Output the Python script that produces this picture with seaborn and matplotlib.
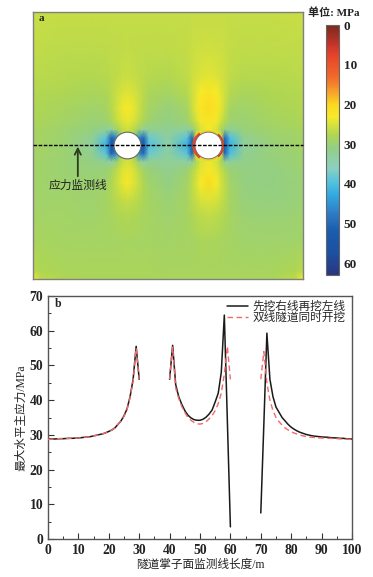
import matplotlib
matplotlib.use("Agg")
import matplotlib.pyplot as plt
import seaborn as sns
import numpy as np
from matplotlib.colors import LinearSegmentedColormap
from matplotlib.patches import Arc, Circle

# panel a: stress at a few uneven grid nodes (MPa)
field_x = [0, 3, 12, 22, 27, 29, 31, 33, 35, 37, 39, 41, 43, 50, 57, 59, 60.5, 62, 65, 68, 69.5, 71, 73, 78, 88, 97, 100]
field_y = [0, 3, 14, 24, 30, 36, 41, 44, 47, 50, 53, 56, 59, 64, 70, 76, 86, 97, 100]
field_v = [
    [23, 27, 28, 28.5, 28.5, 28.5, 28.5, 28.5, 28.5, 28.5, 28.5, 28.5, 28.5, 28.5, 28.5, 28.5, 28.5, 28.5, 28.5, 28.5, 28.5, 28.5, 28.5, 28.5, 28.5, 27, 23],
    [27, 28, 28.5, 28.5, 28.5, 28.5, 28.5, 28.5, 28.5, 28.5, 28.5, 28.5, 28.5, 28.7, 28.7, 28.7, 28.7, 28.7, 28.7, 28.7, 28.7, 28.7, 28.7, 28.7, 28.7, 28, 27],
    [28.5, 28.7, 28.8, 29, 29, 29, 29, 28.8, 28.7, 28.8, 29, 29, 29, 29.2, 29, 28.8, 28.6, 28.5, 28.4, 28.5, 28.6, 28.8, 29, 29.3, 29.5, 29.3, 29],
    [29, 29.1, 29.2, 29.3, 29, 28.7, 28.3, 28, 27.8, 28, 28.3, 28.7, 29, 29.6, 29, 28, 27.5, 27, 26.5, 27, 27.5, 28, 29, 30, 30.2, 30, 29.5],
    [29.2, 29.3, 29.4, 29.6, 29, 28.3, 27.3, 26.5, 26, 26.5, 27.3, 28.3, 29, 30.2, 28.8, 27, 26, 25, 24.5, 25, 26, 27, 28.8, 30.3, 30.6, 30.3, 29.8],
    [29.2, 29.4, 29.6, 30, 29.3, 28, 26, 24.3, 22.5, 24.3, 26, 28, 29.4, 31, 29.2, 26.8, 25, 23, 20.5, 23, 25, 26.8, 29.2, 30.6, 30.8, 30.4, 29.8],
    [29.2, 29.4, 29.8, 30.5, 30.2, 29.2, 27, 24.8, 24, 24.8, 27, 29.2, 30.4, 31.8, 30.2, 27.8, 26, 24.2, 22.5, 24.2, 26, 27.8, 30.2, 31, 30.8, 30.2, 29.6],
    [29, 29.3, 30, 31, 32, 34, 30, 26.5, 25, 26.5, 30, 34, 32, 32.5, 33, 33, 28, 25, 23.5, 25, 28, 32, 32.5, 31.4, 30.6, 30, 29.5],
    [29, 29.2, 30, 32, 39, 51, 45, 25, 25, 25, 45, 50, 38, 33, 39, 51, 22, 24, 24, 24, 22, 50, 40, 32, 30.5, 29.8, 29.3],
    [28.9, 29.1, 30, 33, 42, 56, 56, 30, 30, 30, 56, 55, 40, 33.5, 42, 53, 12, 30, 30, 30, 10, 52, 42, 33, 30.3, 29.5, 29],
    [28.8, 29, 29.8, 32, 39, 51, 45, 25, 25, 25, 45, 50, 38, 33, 39, 51, 22, 24, 24, 24, 22, 50, 40, 32, 30, 29.3, 28.8],
    [28.6, 28.8, 29.6, 30.6, 32, 33.5, 29.5, 27, 25.5, 27, 29.5, 33, 32, 32, 33, 32, 28, 25, 23, 25, 28, 31, 32, 30.5, 29.4, 28.8, 28.4],
    [28.2, 28.4, 29.2, 30.2, 30, 28.5, 26.5, 24.8, 24, 24.8, 26.5, 28.5, 30, 31, 30, 27.5, 25.5, 23.5, 22.3, 23.5, 25.5, 27.5, 30, 30, 29, 28.4, 28],
    [28, 28.1, 28.7, 29.4, 29, 27.5, 25.5, 23.7, 22.5, 23.7, 25.5, 27.5, 29, 30.3, 29, 26, 24, 22, 20.5, 22, 24, 26, 29, 29.3, 28.5, 28, 27.7],
    [27.6, 27.7, 28, 28.5, 28.2, 27.2, 26, 25, 24.5, 25, 26, 27.2, 28.3, 29, 27.5, 25.5, 24.2, 23, 22, 23, 24.2, 25.5, 27.5, 28.4, 27.9, 27.6, 27.4],
    [27.2, 27.3, 27.5, 27.7, 27.4, 27, 26.6, 26.2, 26, 26.2, 26.6, 27, 27.4, 27.8, 26.8, 25.8, 25.2, 24.8, 24.3, 24.8, 25.2, 25.8, 26.8, 27.4, 27.4, 27.2, 27],
    [26.7, 26.8, 26.9, 27, 26.9, 26.8, 26.7, 26.6, 26.5, 26.6, 26.7, 26.8, 26.8, 26.8, 26.4, 26, 25.8, 25.6, 25.5, 25.6, 25.8, 26, 26.4, 26.7, 26.8, 26.8, 26.7],
    [26.2, 26.3, 26.4, 26.4, 26.4, 26.4, 26.4, 26.4, 26.4, 26.4, 26.4, 26.4, 26.4, 26.4, 26.4, 26.3, 26.3, 26.2, 26.2, 26.2, 26.3, 26.3, 26.4, 26.4, 26.4, 26.3, 26.2],
    [25.8, 26, 26.2, 26.2, 26.2, 26.2, 26.2, 26.2, 26.2, 26.2, 26.2, 26.2, 26.2, 26.2, 26.2, 26.2, 26.2, 26.2, 26.2, 26.2, 26.2, 26.2, 26.2, 26.2, 26.2, 26, 25.8],
]
tunnel_x = [35, 65]
tunnel_y = 50
tunnel_r = 5
bar_ticks = [0, 10, 20, 30, 40, 50, 60]
bar_max = 63

stop_v = [0, 5, 8, 13, 17, 20, 23, 25, 28, 31, 36, 40, 43, 47, 52, 58, 63]
stop_c = ["#7a2a1e", "#c8352a", "#e8452a", "#f06a2a", "#f7a32a", "#fbd81e", "#f8ea28", "#d6e23c", "#aed654",
          "#93cf85", "#8cd0c0", "#50c0e0", "#30a8e0", "#3080c8", "#1a5cae", "#1d4f9e", "#2a3580"]

# panel b: monitoring line, three stretches on either side of the tunnels
dist_left = list(range(0, 31))
dist_mid = list(range(40, 61))
dist_right = list(range(70, 101))

seq_left = [28.8, 28.8, 28.8, 28.85, 28.9, 28.9, 28.95, 29, 29, 29.05, 29.1, 29.2, 29.3, 29.4, 29.5, 29.7,
            29.9, 30.1, 30.3, 30.6, 31, 31.4, 32, 33, 34, 35.5, 37.5, 41, 46, 55.5, 46]
seq_mid = [46, 55.8, 44.5, 41, 38.8, 37, 35.7, 34.9, 34.4, 34.2, 34.2, 34.5, 35.1, 36, 37.2, 39.5, 42, 48,
           64.5, 34, 3.5]
seq_right = [7.5, 33, 59.3, 46, 41, 38, 36.5, 35, 34, 33, 32.2, 31.6, 31.1, 30.7, 30.4, 30.1, 29.9, 29.7,
             29.6, 29.5, 29.4, 29.35, 29.3, 29.2, 29.15, 29.1, 29, 29, 28.9, 28.85, 28.8]

sim_left = [28.7, 28.7, 28.8, 28.85, 28.9, 28.9, 28.95, 29, 29, 29.05, 29.1, 29.2, 29.3, 29.4, 29.5, 29.7,
            29.9, 30.1, 30.3, 30.6, 31, 31.4, 32, 33, 34, 35.3, 37.3, 40.8, 45.5, 55, 46]
sim_mid = [46, 55.3, 43.5, 40.5, 38.2, 36.5, 35, 34.2, 33.6, 33.2, 33.1, 33.3, 33.8, 34.6, 35.6, 37, 39, 42,
           47.5, 55.5, 46]
sim_right = [46, 54, 45, 40, 37, 35, 33.8, 32.8, 32, 31.4, 30.9, 30.5, 30.2, 29.9, 29.7, 29.5, 29.35, 29.3,
             29.2, 29.1, 29.1, 29, 29, 29, 28.95, 28.9, 28.85, 28.8, 28.8, 28.75, 28.7]

name_seq = "先挖右线再挖左线"
name_sim = "双线隧道同时开挖"

sns.set_style("white")
plt.rcParams['font.family'] = ['Liberation Serif', 'Noto Sans CJK SC']

W, H = 373, 577
fig = plt.figure(figsize=(W / 100, H / 100), dpi=100)


def px_axes(left, top, right, bottom):
    return fig.add_axes([left / W, 1 - bottom / H, (right - left) / W, (bottom - top) / H])


cmap = LinearSegmentedColormap.from_list("stress", [(v / bar_max, c) for v, c in zip(stop_v, stop_c)])

# panel a
ax_a = px_axes(33, 12, 303, 279)
mesh = ax_a.pcolormesh(field_x, field_y, np.array(field_v), cmap=cmap, vmin=0, vmax=bar_max, shading="gouraud")
ax_a.set_xlim(0, 100)
ax_a.set_ylim(0, 100)
ax_a.set_xticks([])
ax_a.set_yticks([])
for s in ax_a.spines.values():
    s.set_color("#808080")
    s.set_linewidth(1)

ring_d = 2 * tunnel_r + 0.9
ax_a.add_patch(Circle((tunnel_x[1], tunnel_y), tunnel_r + 0.4, fc="none", ec="#f6c828", lw=1, zorder=3))
ax_a.add_patch(Arc((tunnel_x[1], tunnel_y), ring_d, ring_d, theta1=125, theta2=235, ec="#e8452a", lw=2, zorder=3))
ax_a.add_patch(Arc((tunnel_x[1], tunnel_y), ring_d, ring_d, theta1=-50, theta2=50, ec="#d83a28", lw=1.3, zorder=3))
ax_a.add_patch(Circle((tunnel_x[0], tunnel_y), tunnel_r, fc="white", ec="#666666", lw=0.8, zorder=3))
ax_a.add_patch(Circle((tunnel_x[1], tunnel_y), tunnel_r, fc="white", ec="#666666", lw=0.6, zorder=3))
ax_a.plot([0, 100], [tunnel_y, tunnel_y], color="black", lw=1, ls=(0, (2.6, 1.1)), zorder=4, clip_on=False)
ax_a.annotate("", xy=(16.6, 49.6), xytext=(16.6, 38.5),
              arrowprops=dict(arrowstyle="->", color="#2c3a20", lw=1.3, mutation_scale=11, shrinkA=0, shrinkB=0), zorder=5)
ax_a.text(16.6, 35, "应力监测线", ha="center", va="center", fontsize=8.5, color="#222222", zorder=5)
ax_a.text(3.2, 97.4, "a", ha="center", va="center", fontsize=8, fontweight="bold", color="#222222")

# colour bar
cax = px_axes(326, 25, 339, 275)
cb = fig.colorbar(mesh, cax=cax)
cax.set_ylim(bar_max, 0)
cb.set_ticks(bar_ticks)
cb.outline.set_edgecolor("#666666")
cb.outline.set_linewidth(0.8)
cax.tick_params(axis="y", direction="in", length=2.5, width=0.7, color="#333333", labelsize=9.5, pad=3.5, labelcolor="#222222", right=True)
for t in cax.get_yticklabels():
    t.set_fontweight("bold")
fig.text(334 / W, 1 - 13 / H, "单位: MPa", ha="center", va="center", fontsize=8, fontweight="bold", color="#222222")

# panel b
ax_b = px_axes(48, 296, 352, 539)
segments = [(dist_left, seq_left, sim_left), (dist_mid, seq_mid, sim_mid), (dist_right, seq_right, sim_right)]
for i, (d, a, b) in enumerate(segments):
    sns.lineplot(x=d, y=a, ax=ax_b, color="#1a1a1a", lw=1.1, label=name_seq if i == 0 else None, zorder=2)
    sns.lineplot(x=d, y=b, ax=ax_b, color="#f26a6a", lw=1.0, ls=(0, (4, 2.5)), label=name_sim if i == 0 else None, zorder=3)

ax_b.set_xlim(0, 100)
ax_b.set_ylim(0, 70)
ax_b.set_xticks(range(0, 101, 10))
ax_b.set_xticks(range(5, 100, 10), minor=True)
ax_b.set_yticks(range(0, 71, 10))
ax_b.set_yticks(range(5, 70, 10), minor=True)
ax_b.tick_params(which="major", direction="in", length=4, width=0.8, color="#333333", labelsize=9.8, pad=3.5,
                 labelcolor="#222222", bottom=True, left=True)
ax_b.tick_params(which="minor", direction="in", length=2.2, width=0.7, color="#333333", bottom=True, left=True)
for t in ax_b.get_xticklabels() + ax_b.get_yticklabels():
    t.set_fontweight("bold")
for s in ax_b.spines.values():
    s.set_color("#555555")
    s.set_linewidth(1)
ax_b.set_xlabel("隧道掌子面监测线长度/m", fontsize=8.4, labelpad=1.5, color="#222222")
ax_b.set_ylabel("最大水平主应力/MPa", fontsize=8.4, labelpad=1.5, color="#222222")
ax_b.text(3.3, 67.7, "b", ha="center", va="center", fontsize=8.5, fontweight="bold", color="#222222")
ax_b.legend(loc="upper left", bbox_to_anchor=(0.568, 1.006), frameon=False, fontsize=8.4, handlelength=1.8,
            handletextpad=0.35, labelspacing=-0.1, borderaxespad=0.25, borderpad=0.3)

plt.savefig("out.png", dpi=100, facecolor="white")
